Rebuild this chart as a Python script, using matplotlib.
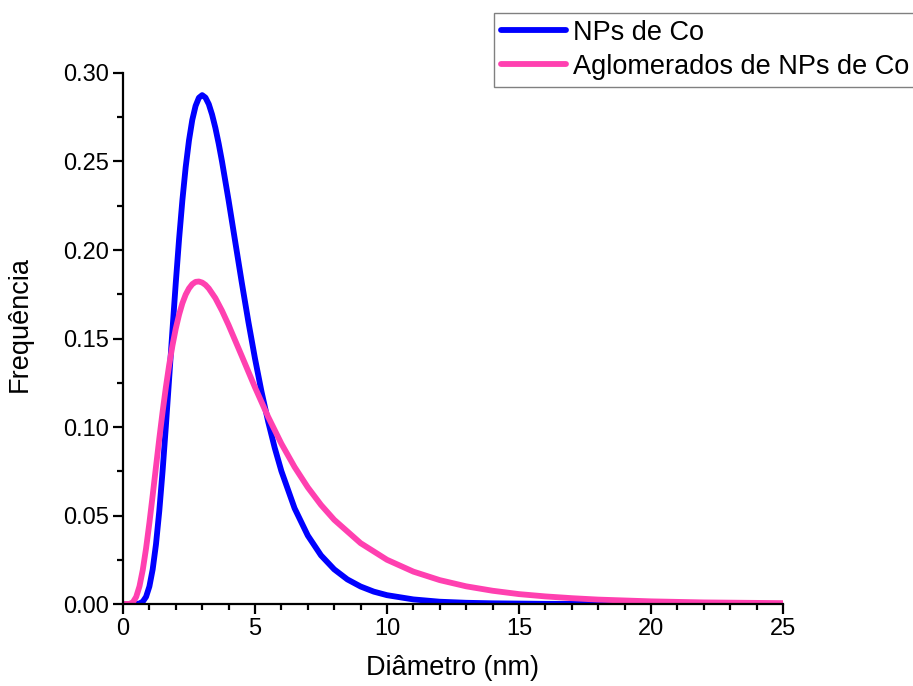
import numpy as np
import matplotlib
matplotlib.use("Agg")
import matplotlib.pyplot as plt
from matplotlib.ticker import MultipleLocator, FormatStrFormatter

# curve values
diam_co = [0, 0.25, 0.5, 0.625, 0.75, 0.875, 1.0, 1.125, 1.25, 1.375, 1.5,
           1.625, 1.75, 1.875, 2.0, 2.125, 2.25, 2.375, 2.5, 2.625, 2.75,
           2.875, 3.0, 3.125, 3.25, 3.375, 3.5, 3.625, 3.75, 4.0, 4.25, 4.5,
           4.75, 5.0, 5.25, 5.5, 5.75, 6.0, 6.5, 7.0, 7.5, 8.0, 8.5, 9.0, 9.5,
           10.0, 11.0, 12.0, 13.0, 14.0, 16.0, 20.0, 25.0]
freq_co = [0, 0, 0.00004, 0.0003, 0.00134, 0.0041, 0.0099, 0.0196, 0.0337,
           0.0525, 0.0751, 0.1005, 0.1276, 0.1550, 0.1815, 0.2062, 0.2281,
           0.2468, 0.2619, 0.2735, 0.2814, 0.2860, 0.2875, 0.2861, 0.2824,
           0.2765, 0.2690, 0.2601, 0.2501, 0.2281, 0.2048, 0.1816, 0.1594,
           0.1387, 0.1198, 0.1030, 0.0881, 0.0751, 0.0541, 0.0387, 0.0275,
           0.0196, 0.0139, 0.0099, 0.0070, 0.0050, 0.0026, 0.0013, 0.0007,
           0.0004, 0.0001, 0.00001, 0]

diam_agl = [0, 0.25, 0.375, 0.5, 0.625, 0.75, 0.875, 1.0, 1.125, 1.25, 1.375,
            1.5, 1.625, 1.75, 1.875, 2.0, 2.125, 2.25, 2.375, 2.5, 2.625,
            2.75, 2.875, 3.0, 3.125, 3.25, 3.5, 3.75, 4.0, 4.5, 5.0, 5.5, 6.0,
            6.5, 7.0, 7.5, 8.0, 9.0, 10.0, 11.0, 12.0, 13.0, 14.0, 15.0, 16.0,
            17.0, 18.0, 19.0, 20.0, 22.0, 25.0]
freq_agl = [0, 0.0001, 0.0010, 0.0040, 0.0100, 0.0193, 0.0315, 0.0458,
            0.0614, 0.0775, 0.0934, 0.1085, 0.1225, 0.1351, 0.1461, 0.1556,
            0.1635, 0.1699, 0.1748, 0.1783, 0.1807, 0.1820, 0.1822, 0.1816,
            0.1803, 0.1783, 0.1728, 0.1657, 0.1576, 0.1401, 0.1224, 0.1057,
            0.0906, 0.0774, 0.0659, 0.0560, 0.0476, 0.0344, 0.0250, 0.0183,
            0.0135, 0.0100, 0.0075, 0.0056, 0.0043, 0.0033, 0.0025, 0.0020,
            0.0015, 0.0009, 0.0005]

labels = ["NPs de Co", "Aglomerados de NPs de Co"]
colors = ["#0000FF", "#FF40B0"]

plt.rcParams['font.family'] = ['Liberation Sans', 'DejaVu Sans']

fig = plt.figure(figsize=(9.13, 6.86), dpi=100)
ax = fig.add_axes([0.1347, 0.1195, 0.7229, 0.7741])

ax.plot(diam_co, freq_co, color=colors[0], lw=4.2, label=labels[0],
        solid_capstyle='round', solid_joinstyle='round')
ax.plot(diam_agl, freq_agl, color=colors[1], lw=4.2, label=labels[1],
        solid_capstyle='round', solid_joinstyle='round')

ax.set_xlim(0, 25)
ax.set_ylim(0, 0.30)
ax.xaxis.set_major_locator(MultipleLocator(5))
ax.xaxis.set_minor_locator(MultipleLocator(1))
ax.yaxis.set_major_locator(MultipleLocator(0.05))
ax.yaxis.set_minor_locator(MultipleLocator(0.025))
ax.yaxis.set_major_formatter(FormatStrFormatter('%.2f'))

# only left and bottom axes
ax.spines['top'].set_visible(False)
ax.spines['right'].set_visible(False)
ax.spines['left'].set_linewidth(1.6)
ax.spines['bottom'].set_linewidth(1.6)
ax.tick_params(which='major', direction='out', length=7, width=1.6,
               labelsize=17, pad=3)
ax.tick_params(which='minor', direction='out', length=4, width=1.6)

ax.set_xlabel('Diâmetro (nm)', fontsize=19.5, labelpad=11)
ax.set_ylabel('Frequência', fontsize=19.5)
ax.yaxis.set_label_coords(-0.137, 0.527)

leg = ax.legend(loc='upper right', bbox_to_anchor=(1.003, 0.981),
                bbox_transform=fig.transFigure, fontsize=19.5, frameon=True,
                fancybox=False, edgecolor='#808080', framealpha=1,
                handlelength=2.4, handletextpad=0.25, borderpad=0.25,
                labelspacing=0.3, borderaxespad=0)
leg.get_frame().set_linewidth(1.0)

plt.savefig('out.png', dpi=100)
